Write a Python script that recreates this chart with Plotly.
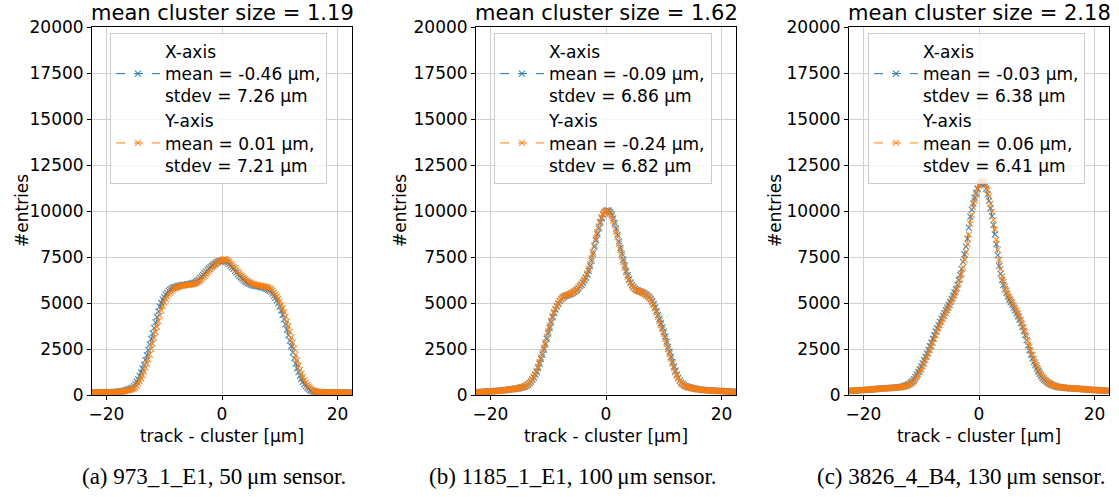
import plotly.graph_objects as go

# bin centres (track - cluster, µm), 0.25 µm bins from -22.5 to 22.5
bin_centers = [round(-22.5 + 0.25 * i, 2) for i in range(181)]

# Panel (a) 973_1_E1, 50 µm sensor  (each row = 1 µm, starting at -22.5)
a_x_axis = [
    140, 135, 140, 145,   145, 140, 140, 150,   150, 145, 150, 155,
    155, 160, 160, 165,   170, 175, 180, 190,   200, 215, 230, 255,
    280, 300, 320, 355,   400, 480, 590, 720,   860, 1040, 1230, 1440,
    1650, 1890, 2150, 2450,   2750, 3050, 3350, 3650,   3950, 4250, 4550, 4800,
    5000, 5180, 5320, 5450,   5550, 5650, 5720, 5780,   5820, 5870, 5860, 5910,
    5930, 5940, 5970, 5980,   5990, 6000, 6020, 6030,   6040, 6060, 6080, 6110,
    6150, 6210, 6280, 6360,   6450, 6530, 6620, 6710,   6800, 6880, 6950, 7020,
    7080, 7140, 7200, 7250,   7280, 7300, 7300, 7300,   7280, 7240, 7200, 7110,
    7020, 6940, 6850, 6750,   6650, 6560, 6480, 6400,   6320, 6250, 6180, 6130,
    6080, 6040, 6000, 5970,   5950, 5930, 5920, 5900,   5880, 5870, 5850, 5830,
    5800, 5770, 5720, 5670,   5600, 5510, 5400, 5280,   5150, 4990, 4800, 4590,
    4350, 4110, 3850, 3550,   3250, 2950, 2650, 2320,   2000, 1710, 1450, 1240,
    1050, 870, 720, 590,   480, 400, 330, 270,   230, 200, 180, 170,
    160, 155, 150, 150,   150, 145, 145, 145,   145, 140, 140, 140,
    140, 140, 140, 135,   135, 135, 135, 135,   135, 130, 130, 130,
    130]
a_y_axis = [
    130, 132, 135, 138,   140, 140, 140, 140,   140, 142, 145, 148,
    150, 150, 150, 155,   160, 162, 165, 172,   180, 190, 203, 220,
    240, 262, 284, 304,   327, 364, 416, 502,   616, 748, 896, 1078,
    1272, 1482, 1698, 1942,   2210, 2510, 2810, 3110,   3410, 3710, 4010, 4310,
    4600, 4840, 5036, 5216,   5346, 5470, 5570, 5664,   5732, 5788, 5826, 5856,
    5886, 5914, 5932, 5945,   5960, 5970, 5980, 5990,   6000, 6015, 6030, 6050,
    6080, 6120, 6170, 6230,   6300, 6390, 6480, 6560,   6650, 6740, 6830, 6920,
    7000, 7070, 7130, 7190,   7250, 7300, 7330, 7370,   7380, 7350, 7300, 7230,
    7150, 7070, 6980, 6890,   6800, 6710, 6620, 6530,   6450, 6370, 6300, 6230,
    6170, 6120, 6080, 6050,   6020, 6000, 5980, 5965,   5950, 5935, 5920, 5900,
    5880, 5860, 5830, 5800,   5750, 5670, 5560, 5465,   5350, 5230, 5085, 4915,
    4715, 4495, 4255, 4005,   3730, 3430, 3130, 2830,   2520, 2190, 1885, 1605,
    1365, 1165, 980, 810,   670, 545, 450, 375,   310, 255, 220, 195,
    178, 168, 160, 157,   155, 152, 150, 148,   145, 145, 145, 142,
    140, 140, 140, 140,   140, 138, 135, 135,   135, 132, 130, 130,
    130]

# Panel (b) 1185_1_E1, 100 µm sensor
b_x_axis = [
    150, 155, 160, 165,   170, 175, 180, 185,   190, 195, 200, 205,
    210, 215, 220, 228,   235, 242, 250, 260,   270, 280, 290, 300,
    310, 320, 330, 340,   350, 365, 380, 400,   420, 442, 470, 510,
    560, 630, 720, 825,   950, 1090, 1250, 1460,   1700, 1950, 2200, 2470,
    2750, 3050, 3350, 3650,   3950, 4220, 4450, 4640,   4800, 4960, 5100, 5200,
    5280, 5340, 5380, 5410,   5440, 5470, 5500, 5550,   5600, 5660, 5720, 5800,
    5900, 5990, 6100, 6220,   6350, 6530, 6750, 7000,   7300, 7670, 8050, 8410,
    8750, 9060, 9350, 9600,   9800, 9930, 10000, 10030,   10020, 9940, 9800, 9600,
    9350, 9040, 8700, 8350,   8000, 7670, 7350, 7040,   6750, 6510, 6300, 6120,
    5980, 5870, 5780, 5720,   5680, 5650, 5620, 5590,   5550, 5500, 5450, 5390,
    5320, 5220, 5100, 4950,   4780, 4570, 4350, 4130,   3900, 3680, 3450, 3180,
    2900, 2620, 2350, 2070,   1800, 1550, 1320, 1120,   950, 800, 680, 600,
    540, 495, 460, 432,   410, 390, 370, 355,   340, 325, 310, 300,
    290, 280, 270, 265,   260, 255, 250, 245,   240, 235, 230, 228,
    225, 222, 220, 215,   210, 205, 200, 195,   190, 185, 180, 175,
    170]
b_y_axis = [
    140, 148, 155, 160,   165, 170, 175, 180,   185, 190, 195, 200,
    205, 210, 215, 222,   230, 238, 245, 252,   260, 270, 280, 290,
    300, 310, 320, 332,   345, 360, 375, 395,   420, 448, 480, 525,
    580, 655, 750, 865,   1000, 1150, 1320, 1540,   1780, 2040, 2300, 2570,
    2850, 3150, 3450, 3750,   4050, 4300, 4520, 4700,   4850, 5000, 5130, 5230,
    5300, 5360, 5400, 5430,   5460, 5490, 5530, 5570,   5620, 5680, 5750, 5830,
    5930, 6030, 6150, 6280,   6420, 6610, 6850, 7110,   7420, 7780, 8150, 8510,
    8850, 9150, 9420, 9660,   9850, 9960, 10020, 10010,   9950, 9850, 9700, 9480,
    9230, 8910, 8580, 8230,   7880, 7540, 7220, 6920,   6650, 6420, 6230, 6070,
    5940, 5830, 5750, 5700,   5660, 5630, 5600, 5570,   5530, 5480, 5420, 5360,
    5280, 5170, 5040, 4880,   4700, 4480, 4250, 4020,   3800, 3570, 3330, 3060,
    2780, 2500, 2230, 1960,   1700, 1460, 1250, 1060,   900, 765, 650, 575,
    520, 480, 450, 425,   400, 380, 360, 345,   330, 318, 305, 295,
    285, 275, 265, 260,   255, 250, 245, 240,   235, 230, 225, 222,
    220, 218, 215, 210,   205, 200, 195, 190,   185, 180, 175, 170,
    165]

# Panel (c) 3826_4_B4, 130 µm sensor
c_x_axis = [
    220, 225, 230, 235,   240, 245, 250, 255,   260, 265, 270, 275,
    280, 285, 290, 295,   300, 310, 320, 330,   340, 345, 350, 355,
    360, 365, 370, 375,   380, 385, 390, 395,   400, 410, 420, 430,
    440, 455, 480, 505,   540, 575, 620, 680,   760, 860, 980, 1110,
    1250, 1400, 1550, 1720,   1900, 2070, 2250, 2450,   2650, 2850, 3050, 3250,
    3450, 3630, 3800, 3980,   4150, 4300, 4450, 4600,   4750, 4900, 5050, 5220,
    5400, 5570, 5750, 5980,   6250, 6530, 6850, 7230,   7650, 8060, 8500, 9100,
    9700, 10080, 10400, 10720,   11000, 11230, 11400, 11500,   11550, 11530, 11450, 11220,
    10900, 10550, 10150, 9720,   9250, 8730, 8200, 7600,   7000, 6600, 6250, 5980,
    5750, 5540, 5350, 5190,   5050, 4900, 4750, 4600,   4450, 4280, 4100, 3910,
    3700, 3480, 3250, 2980,   2700, 2440, 2200, 1990,   1800, 1620, 1450, 1290,
    1150, 1030, 920, 840,   770, 705, 650, 600,   560, 528, 500, 472,
    450, 435, 420, 410,   400, 390, 380, 375,   370, 365, 360, 355,
    350, 345, 340, 335,   330, 320, 310, 305,   300, 295, 290, 285,
    280, 275, 270, 265,   260, 255, 250, 245,   240, 235, 230, 225,
    220]
c_y_axis = [
    230, 232, 235, 240,   245, 250, 255, 260,   265, 270, 275, 280,
    285, 290, 295, 300,   305, 310, 315, 322,   330, 338, 345, 350,
    355, 360, 365, 370,   375, 380, 385, 390,   395, 402, 410, 420,
    430, 443, 460, 482,   510, 542, 580, 630,   690, 775, 880, 995,
    1120, 1255, 1400, 1555,   1720, 1895, 2080, 2265,   2450, 2650, 2850, 3050,
    3250, 3440, 3620, 3800,   3980, 4140, 4300, 4460,   4620, 4760, 4900, 5070,
    5250, 5420, 5600, 5810,   6050, 6310, 6600, 6950,   7350, 7770, 8200, 8720,
    9300, 9780, 10200, 10570,   10900, 11180, 11400, 11560,   11650, 11640, 11550, 11380,
    11150, 10800, 10400, 9970,   9500, 8990, 8450, 7890,   7350, 6860, 6450, 6150,
    5900, 5680, 5480, 5320,   5170, 5020, 4880, 4730,   4580, 4420, 4250, 4070,
    3870, 3660, 3430, 3170,   2900, 2630, 2380, 2160,   1950, 1760, 1580, 1410,
    1250, 1110, 990, 895,   810, 740, 680, 628,   580, 543, 510, 483,
    460, 445, 430, 417,   405, 395, 385, 380,   375, 370, 365, 360,
    355, 350, 345, 340,   335, 328, 320, 312,   305, 300, 295, 290,
    285, 280, 275, 270,   265, 260, 255, 250,   245, 240, 235, 230,
    225]

titles = ["mean cluster size = 1.19", "mean cluster size = 1.62", "mean cluster size = 2.18"]
x_labels = [
    "X-axis<br>mean = -0.46 μm,<br>stdev = 7.26 μm",
    "X-axis<br>mean = -0.09 μm,<br>stdev = 6.86 μm",
    "X-axis<br>mean = -0.03 μm,<br>stdev = 6.38 μm",
]
y_labels = [
    "Y-axis<br>mean = 0.01 μm,<br>stdev = 7.21 μm",
    "Y-axis<br>mean = -0.24 μm,<br>stdev = 6.82 μm",
    "Y-axis<br>mean = 0.06 μm,<br>stdev = 6.41 μm",
]
captions = ["(a) 973_1_E1, 50\u2009μm sensor.",
            "(b) 1185_1_E1, 100\u2009μm sensor.",
            "(c) 3826_4_B4, 130\u2009μm sensor."]
y_ticks = [0, 2500, 5000, 7500, 10000, 12500, 15000, 17500, 20000]
y_tick_text = [str(v) for v in y_ticks]
x_ticks = [-20, 0, 20]
x_tick_text = ["\u221220", "0", "20"]

series = [(a_x_axis, a_y_axis), (b_x_axis, b_y_axis), (c_x_axis, c_y_axis)]
for s in series:
    assert len(s[0]) == len(bin_centers), len(s[0])
    assert len(s[1]) == len(bin_centers), len(s[1])

W, H = 1119, 497
plot_lr = [(92, 352), (476, 736), (849, 1109)]
plot_top, plot_bottom = 27, 395
legend_left = [110, 494, 868]
caption_cx = [214, 573, 961]
ytitle_x = [22, 400, 775]

BLUE = "#1f77b4"
ORANGE = "#ff7f0e"
FONT = "DejaVu Sans"

fig = go.Figure()
layout = dict(
    width=W, height=H,
    margin=dict(l=0, r=0, t=0, b=0),
    paper_bgcolor="white", plot_bgcolor="white",
    font=dict(family=FONT, size=17, color="black"),
    annotations=[],
)

for i, (xs, ys) in enumerate(series):
    sfx = "" if i == 0 else str(i + 1)
    leg = "legend" if i == 0 else f"legend{i + 1}"
    for vals, name, col in ((xs, x_labels[i], BLUE), (ys, y_labels[i], ORANGE)):
        fig.add_trace(go.Scatter(
            x=bin_centers, y=vals, name=name, mode="lines+markers",
            line=dict(color=col, width=1, dash="dash"),
            marker=dict(symbol="x-thin", size=6, opacity=0.85,
                        line=dict(color=col, width=1.1)),
            xaxis="x" + sfx, yaxis="y" + sfx, legend=leg,
        ))
    l, r = plot_lr[i]
    axis_common = dict(
        showline=True, linecolor="black", linewidth=1, mirror=True,
        ticks="outside", ticklen=4, tickcolor="black", tickwidth=1,
        showgrid=True, gridcolor="#d0d0d0", gridwidth=1,
        zeroline=False, automargin=False,
        tickfont=dict(family=FONT, size=17, color="black"),
    )
    layout["xaxis" + sfx] = dict(
        axis_common, domain=[l / W, r / W], range=[-22.5, 22.5],
        tickvals=x_ticks, ticktext=x_tick_text, anchor="y" + sfx,
        title=dict(text="track - cluster [μm]", font=dict(family=FONT, size=17), standoff=6),
    )
    layout["yaxis" + sfx] = dict(
        axis_common, domain=[1 - plot_bottom / H, 1 - plot_top / H], range=[0, 20000],
        tickvals=y_ticks, ticktext=y_tick_text, anchor="x" + sfx,
    )
    layout[leg] = dict(
        x=legend_left[i] / W, y=1 - 33 / H, xanchor="left", yanchor="top",
        bgcolor="rgba(255,255,255,0.8)", bordercolor="#cccccc", borderwidth=1,
        font=dict(family=FONT, size=17, color="black"),
        tracegroupgap=3, valign="middle", itemwidth=44,
    )
    cx = (l + r) / 2 / W
    layout["annotations"].append(dict(
        text=titles[i], x=cx, y=1 - plot_top / H, xref="paper", yref="paper",
        xanchor="center", yanchor="bottom", yshift=0, showarrow=False,
        font=dict(family=FONT, size=21, color="black"),
    ))
    layout["annotations"].append(dict(
        text="#entries", x=ytitle_x[i] / W, y=1 - (plot_top + plot_bottom) / 2 / H,
        xref="paper", yref="paper", xanchor="center", yanchor="middle",
        textangle=-90, showarrow=False,
        font=dict(family=FONT, size=17, color="black"),
    ))
    layout["annotations"].append(dict(
        text=captions[i], x=caption_cx[i] / W, y=1 - 476 / H,
        xref="paper", yref="paper", xanchor="center", yanchor="middle",
        showarrow=False,
        font=dict(family="Liberation Serif", size=23, color="black"),
    ))

fig.update_layout(**layout)
fig.write_html("out.html", config={"displayModeBar": False},
               post_script="document.body.style.margin='0px';")
